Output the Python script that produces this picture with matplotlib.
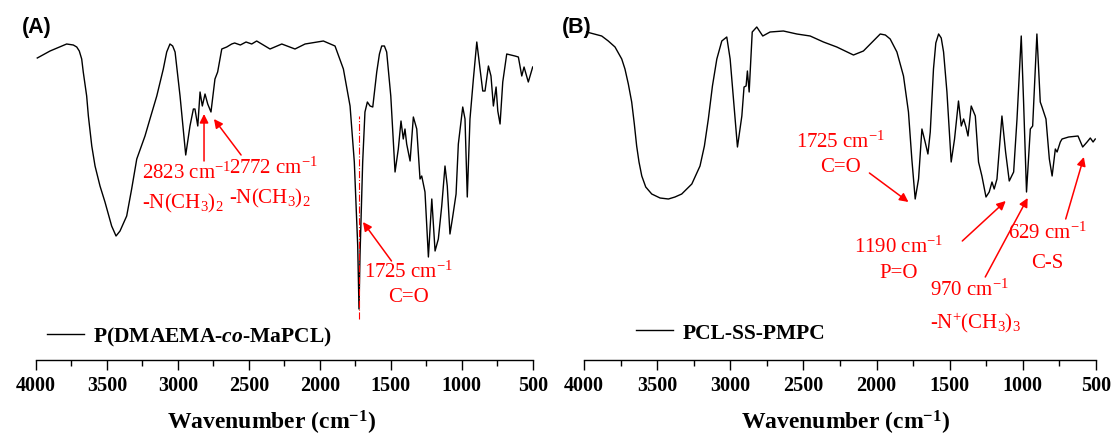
import matplotlib
matplotlib.use("Agg")
import matplotlib.pyplot as plt
from matplotlib.ticker import MultipleLocator

plt.rcParams['font.family'] = ['Liberation Serif', 'DejaVu Serif']
plt.rcParams['mathtext.fontset'] = 'custom'
plt.rcParams['mathtext.rm'] = 'Liberation Serif'
plt.rcParams['mathtext.it'] = 'Liberation Serif:italic'
plt.rcParams['mathtext.bf'] = 'Liberation Serif:bold'
plt.rcParams['mathtext.bfit'] = 'Liberation Serif:italic:bold'

# spectrum A : P(DMAEMA-co-MaPCL), transmittance in arbitrary units
wn_a = [3991, 3901, 3784, 3737, 3713, 3695, 3678, 3667, 3643, 3631, 3607, 3584,
        3549, 3514, 3467, 3436, 3408, 3361, 3326, 3290, 3232, 3197, 3149, 3103,
        3079, 3056, 3037, 3020, 2985, 2945, 2915, 2891, 2880, 2860, 2844, 2828,
        2809, 2790, 2767, 2739, 2720, 2691, 2656, 2621, 2600, 2560, 2520, 2480,
        2445, 2351, 2268, 2175, 2104, 1975, 1893, 1834, 1787, 1757, 1733, 1724,
        1717, 1698, 1682, 1665, 1646, 1627, 1599, 1580, 1564, 1545, 1529, 1500,
        1470, 1447, 1428, 1412, 1400, 1388, 1364, 1341, 1317, 1294, 1282, 1259,
        1235, 1211, 1188, 1165, 1141, 1118, 1102, 1083, 1064, 1040, 1024, 993,
        977, 961, 942, 918, 894, 871, 852, 836, 812, 794, 777, 758, 746, 730,
        711, 683, 625, 601, 577, 561, 531, 500]
t_a = [302, 309, 316, 315, 313, 309, 301, 288, 264, 244, 214, 194,
       174, 158, 134, 124, 129, 144, 171, 201, 224, 241, 264, 291,
       308, 316, 314, 308, 264, 205, 234, 251, 251, 234, 268, 254,
       266, 256, 248, 281, 288, 311, 313, 316, 317, 315, 318, 316,
       319, 311, 316, 311, 316, 319, 314, 291, 254, 198, 114, 51,
       104, 198, 248, 258, 254, 253, 288, 306, 314, 314, 308, 264,
       188, 211, 239, 221, 231, 216, 199, 243, 231, 181, 184, 168,
       103, 161, 109, 121, 154, 194, 174, 126, 143, 166, 216, 253,
       241, 163, 241, 281, 318, 291, 269, 269, 294, 284, 254, 273, 249, 236,
       278, 306, 304, 303, 284, 293, 278, 293]

# spectrum B : PCL-SS-PMPC
wn_b = [3982, 3879, 3834, 3788, 3742, 3720, 3697, 3674, 3656, 3640, 3624, 3605,
        3578, 3537, 3480, 3423, 3378, 3332, 3263, 3207, 3177, 3150, 3122, 3092,
        3058, 3024, 3001, 2951, 2921, 2906, 2892, 2883, 2871, 2850, 2819, 2778,
        2728, 2637, 2545, 2454, 2363, 2272, 2158, 2090, 1975, 1940, 1907, 1861,
        1816, 1782, 1759, 1736, 1713, 1690, 1668, 1649, 1633, 1611, 1595, 1576,
        1558, 1542, 1519, 1490, 1467, 1440, 1421, 1405, 1389, 1375, 1353, 1325,
        1303, 1280, 1252, 1230, 1211, 1196, 1177, 1143, 1118, 1093, 1063, 1040,
        1011, 995, 975, 949, 933, 904, 881, 869, 842, 819, 800, 778, 766, 744,
        732, 687, 623, 591, 561, 539, 520, 505]
t_b = [328, 324, 319, 313, 301, 291, 276, 258, 236, 214, 198, 184,
       173, 166, 162, 161, 163, 166, 176, 194, 214, 241, 274, 301,
       319, 323, 301, 213, 244, 273, 274, 289, 268, 328, 333, 324,
       328, 329, 326, 324, 318, 313, 305, 309, 326, 325, 321, 308,
       284, 248, 201, 161, 181, 231, 218, 206, 228, 291, 317, 326,
       322, 308, 268, 198, 221, 259, 234, 241, 233, 224, 254, 244,
       198, 184, 163, 168, 178, 171, 181, 244, 208, 179, 188, 241,
       324, 258, 168, 231, 234, 326, 258, 253, 241, 201, 184, 211, 208, 218,
       221, 223, 224, 213, 218, 222, 218, 221]

ticks = [4000, 3500, 3000, 2500, 2000, 1500, 1000, 500]

fig = plt.figure(figsize=(11.18, 4.39), dpi=100)
ax_a = fig.add_axes([36 / 1118, 78 / 439, 496.7 / 1118, 341 / 439])
ax_b = fig.add_axes([584 / 1118, 78 / 439, 512 / 1118, 341 / 439])

red = '#ff0000'
lab_font = dict(fontsize=15, color=red)


def style_axis(ax, label_x):
    ax.set_xlim(4000, 500)
    ax.set_ylim(0, 341)
    for s in ['top', 'left', 'right']:
        ax.spines[s].set_visible(False)
    ax.spines['bottom'].set_linewidth(1.0)
    ax.set_yticks([])
    ax.set_xticks(ticks)
    ax.xaxis.set_minor_locator(MultipleLocator(250))
    ax.tick_params(axis='x', which='major', direction='out', length=7, width=1,
                   labelsize=14.5, pad=4)
    ax.tick_params(axis='x', which='minor', direction='out', length=4, width=1)
    for lb in ax.get_xticklabels():
        lb.set_fontweight('bold')
    ax.set_xlabel(r'Wavenumber (cm$^{\mathbf{-1}}$)', fontsize=17,
                  fontweight='bold')
    ax.xaxis.set_label_coords(label_x, -0.14)
    ax.patch.set_alpha(0)


def arrow(ax, tip, tail):
    ax.annotate('', xy=tip, xytext=tail,
                arrowprops=dict(arrowstyle='-|>', color=red, lw=1.1,
                                mutation_scale=13, shrinkA=0, shrinkB=0))


# panel A
ax_a.plot(wn_a, t_a, color='black', lw=1.0,
          label='P(DMAEMA-' + r'$\mathbfit{co}$' + '-MaPCL)')
style_axis(ax_a, 0.475)
ax_a.plot([1725, 1725], [41, 244], color=red, lw=0.8, ls='-.')
arrow(ax_a, (2816, 246), (2816, 199))
arrow(ax_a, (2746, 241), (2555, 205))
arrow(ax_a, (1696, 138), (1495, 99))
ax_a.text(3253, 188, r'2823 cm$^{-1}$', ha='left', va='center', **lab_font)
ax_a.text(3253, 158, r'-N(CH$_3$)$_2$', ha='left', va='center', **lab_font)
ax_a.text(2640, 193, r'2772 cm$^{-1}$', ha='left', va='center', **lab_font)
ax_a.text(2640, 163, r'-N(CH$_3$)$_2$', ha='left', va='center', **lab_font)
ax_a.text(1378, 89, r'1725 cm$^{-1}$', ha='center', va='center', **lab_font)
ax_a.text(1378, 63, 'C=O', ha='center', va='center', **lab_font)
ax_a.legend(loc='center left', bbox_to_anchor=(0.005, 0.07), frameon=False,
            handlelength=1.7, handletextpad=0.45, borderaxespad=0,
            prop=dict(size=15.5, weight='bold'))

# panel B
ax_b.plot(wn_b, t_b, color='black', lw=1.0, label='PCL-SS-PMPC')
style_axis(ax_b, 0.51)
arrow(ax_b, (1782, 158), (2049, 187))
arrow(ax_b, (1117, 159), (1414, 119))
arrow(ax_b, (967, 162), (1257, 83))
arrow(ax_b, (583, 203), (707, 141))
ax_b.text(2249, 219, r'1725 cm$^{-1}$', ha='center', va='center', **lab_font)
ax_b.text(2249, 193, 'C=O', ha='center', va='center', **lab_font)
ax_b.text(1852, 114, r'1190 cm$^{-1}$', ha='center', va='center', **lab_font)
ax_b.text(1852, 88, 'P=O', ha='center', va='center', **lab_font)
ax_b.text(1633, 71, r'970 cm$^{-1}$', ha='left', va='center', **lab_font)
ax_b.text(1633, 38, r'-N$^{+}$(CH$_3$)$_3$', ha='left', va='center', **lab_font)
ax_b.text(833, 128, r'629 cm$^{-1}$', ha='center', va='center', **lab_font)
ax_b.text(833, 98, 'C-S', ha='center', va='center', **lab_font)
ax_b.legend(loc='center left', bbox_to_anchor=(0.085, 0.08), frameon=False,
            handlelength=1.7, handletextpad=0.45, borderaxespad=0,
            prop=dict(size=15.5, weight='bold'))

fig.text(22 / 1118, 1 - 28 / 439, '(A)', fontsize=15.5, fontweight='bold',
         family='Liberation Sans', va='center', ha='left')
fig.text(562 / 1118, 1 - 28 / 439, '(B)', fontsize=15.5, fontweight='bold',
         family='Liberation Sans', va='center', ha='left')

fig.savefig('out.png', dpi=100)
